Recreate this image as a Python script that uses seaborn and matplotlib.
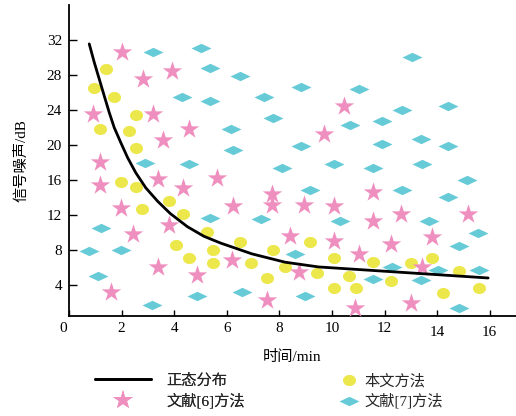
import numpy as np
import pandas as pd
import seaborn as sns
import matplotlib
matplotlib.use("Agg")
import matplotlib.pyplot as plt
from matplotlib.lines import Line2D
from matplotlib.path import Path
import matplotlib.transforms as mtrans

# ---------------- data ----------------
curve_x = [0.77, 0.96, 1.15, 1.34, 1.53, 1.72, 1.97, 2.23, 2.54, 2.92, 3.37, 3.85, 4.50,
           5.13, 5.77, 6.96, 8.22, 9.49, 11.39, 15.94]
curve_y = [31.56, 29.46, 27.55, 25.63, 23.73, 22.01, 20.29, 18.57, 16.85, 15.13, 13.60,
           12.20, 10.70, 9.60, 8.82, 7.59, 6.64, 6.10, 5.73, 4.84]

ours_x = [1.42, 0.94, 1.73, 2.53, 1.18, 2.28, 2.53, 1.96, 2.53, 3.80, 4.33, 2.78, 5.25, 4.07,
          5.46, 4.55, 5.46, 6.52, 7.75, 6.93, 7.53, 8.22, 9.18, 9.43, 10.09, 10.66, 10.09,
          10.90, 11.56, 13.02, 13.80, 12.26, 14.21, 14.84, 15.61]
ours_y = [28.66, 26.51, 25.52, 23.50, 21.89, 21.62, 19.67, 15.81, 15.24, 13.64, 12.18, 12.72,
          10.11, 8.59, 8.02, 7.13, 6.59, 8.97, 8.05, 6.56, 4.84, 6.07, 8.99, 5.45, 7.17, 5.10,
          3.75, 3.75, 6.62, 6.59, 7.17, 4.53, 3.15, 5.67, 3.75]

ref6_x = [2.02, 2.81, 3.90, 0.91, 3.19, 4.55, 3.58, 1.17, 10.46, 9.68, 1.17, 3.39, 4.33, 5.62,
          1.96, 3.80, 2.43, 3.39, 4.87, 1.58, 7.72, 7.72, 6.24, 8.92, 10.06, 11.56, 12.64,
          15.18, 11.56, 8.39, 10.06, 13.80, 12.26, 11.02, 6.20, 8.75, 13.42, 7.53, 10.89, 13.02]
ref6_y = [30.68, 27.51, 28.43, 23.53, 23.53, 21.89, 20.59, 18.06, 24.48, 21.32, 15.47, 16.19,
          15.16, 16.25, 12.79, 10.84, 9.81, 6.10, 5.15, 3.23, 14.47, 13.13, 13.06, 13.13, 13.06,
          14.62, 12.18, 12.12, 11.32, 9.62, 9.05, 9.56, 8.68, 7.63, 6.94, 5.47, 6.08, 2.28,
          1.42, 1.95]

ref7_x = [3.19, 5.01, 5.36, 4.28, 5.36, 2.88, 4.55, 6.52, 8.82, 11.04, 7.40, 7.75, 10.70, 6.16,
          6.24, 8.82, 8.09, 10.09, 11.56, 13.03, 12.66, 14.43, 11.92, 11.92, 13.38, 14.43,
          13.43, 15.14, 9.18, 12.66, 14.43, 10.32, 13.71, 15.57, 14.84, 8.58, 12.28, 14.05,
          15.61, 11.56, 13.40, 8.96, 14.84, 7.30, 6.58, 5.38, 1.23, 0.76, 1.98, 1.11, 4.87, 3.16]
ref7_y = [30.61, 31.10, 28.84, 25.52, 25.02, 17.99, 17.83, 27.86, 26.59, 26.43, 25.54, 23.05,
          22.27, 21.81, 19.40, 19.90, 17.45, 17.80, 17.34, 30.05, 23.97, 24.45, 22.79, 20.17,
          20.67, 19.90, 17.80, 16.02, 14.87, 14.91, 14.04, 11.32, 11.30, 10.03, 8.53, 7.53,
          6.12, 5.73, 5.73, 4.67, 4.56, 2.78, 1.42, 11.61, 3.20, 11.64, 10.57, 7.97, 8.02,
          5.10, 2.74, 1.78]

x_ticks = [0, 2, 4, 6, 8, 10, 12, 14, 16]
y_ticks = [4, 8, 12, 16, 20, 24, 28, 32]

label_curve = "正态分布"
label_ours = "本文方法"
label_ref6 = "文献[6]方法"
label_ref7 = "文献[7]方法"
x_label = "时间/min"
y_label = "信号噪声/dB"

# ---------------- style ----------------
sns.set_theme(style="white")
plt.rcParams["font.family"] = ["Liberation Serif", "Noto Sans CJK SC"]
plt.rcParams["font.size"] = 11
plt.rcParams["axes.unicode_minus"] = False

c_star = "#EF8FBF"
c_circ = "#ECE84C"
c_diam = "#66CBD7"

diamond = Path([(-1, 0), (0, 0.47), (1, 0), (0, -0.47), (-1, 0)],
               [Path.MOVETO, Path.LINETO, Path.LINETO, Path.LINETO, Path.CLOSEPOLY])
t = np.linspace(0, 2 * np.pi, 60)
ellipse = Path(np.column_stack([np.cos(t), 0.85 * np.sin(t)]))

fig = plt.figure(figsize=(5.16, 4.16), dpi=100)
ax = fig.add_axes([69 / 516, 1 - 316 / 416, 1 - 69 / 516, 311 / 416])

df_curve = pd.DataFrame({"x": curve_x, "y": curve_y})
df_ours = pd.DataFrame({"x": ours_x, "y": ours_y})
df_r6 = pd.DataFrame({"x": ref6_x, "y": ref6_y})
df_r7 = pd.DataFrame({"x": ref7_x, "y": ref7_y})

sns.scatterplot(data=df_r7, x="x", y="y", marker=diamond, s=207, color=c_diam,
                linewidth=0, ax=ax, zorder=2)
sns.scatterplot(data=df_ours, x="x", y="y", marker=ellipse, s=88, color=c_circ,
                linewidth=0, ax=ax, zorder=3)
sns.scatterplot(data=df_r6, x="x", y="y", marker="*", s=215, color=c_star,
                linewidth=0, ax=ax, zorder=4)
sns.lineplot(data=df_curve, x="x", y="y", color="black", linewidth=2.0, ax=ax,
             sort=True, zorder=5)

ax.set_xlim(0, 17)
ax.set_ylim(0.5, 36)
ax.set_xticks(x_ticks)
ax.set_yticks(y_ticks)
ax.set_xticklabels([str(v) for v in x_ticks])
ax.set_yticklabels([str(v) for v in y_ticks])
ax.tick_params(axis="x", direction="in", length=4, width=1, colors="black",
               labelsize=11, pad=4, bottom=True)
ax.tick_params(axis="y", direction="in", length=6, width=1, colors="black",
               labelsize=11, pad=5, left=True)
for sp in ["top", "right"]:
    ax.spines[sp].set_visible(False)
for sp in ["left", "bottom"]:
    ax.spines[sp].set_color("black")
    ax.spines[sp].set_linewidth(1.3)
ax.set_facecolor("white")

# small offsets of tick labels as in reference
for lab in ax.get_xticklabels():
    txt = lab.get_text()
    if txt == "0":
        lab.set_transform(lab.get_transform() + mtrans.ScaledTranslation(-6 / 100, 0, fig.dpi_scale_trans))
    elif txt in ("14", "16"):
        lab.set_transform(lab.get_transform() + mtrans.ScaledTranslation(0, -4 / 100, fig.dpi_scale_trans))

ax.set_xlabel(x_label, fontsize=11, color="black", labelpad=8)
ax.set_ylabel(y_label, fontsize=11, color="black", labelpad=13)

# legends
h_line = Line2D([], [], color="black", linewidth=2.0)
h_star = Line2D([], [], marker="*", linestyle="none", markersize=15, color=c_star, markeredgewidth=0)
h_circ = Line2D([], [], marker=ellipse, linestyle="none", markersize=9.4, color=c_circ, markeredgewidth=0)
h_diam = Line2D([], [], marker=diamond, linestyle="none", markersize=14.4, color=c_diam, markeredgewidth=0)

leg1 = fig.legend([h_line, h_star], [label_curve, label_ref6], loc="upper left",
                  bbox_to_anchor=(87 / 516, 1 - 366 / 416), frameon=False, borderpad=0,
                  handlelength=3.7, handletextpad=1.0, labelspacing=0.35, fontsize=11)
leg2 = fig.legend([h_circ, h_diam], [label_ours, label_ref7], loc="upper left",
                  bbox_to_anchor=(331 / 516, 1 - 366 / 416), frameon=False, borderpad=0,
                  handlelength=1.4, handletextpad=0.3, labelspacing=0.35, fontsize=11)
fig.add_artist(leg1)

fig.savefig("out.png", dpi=100, facecolor="white")
